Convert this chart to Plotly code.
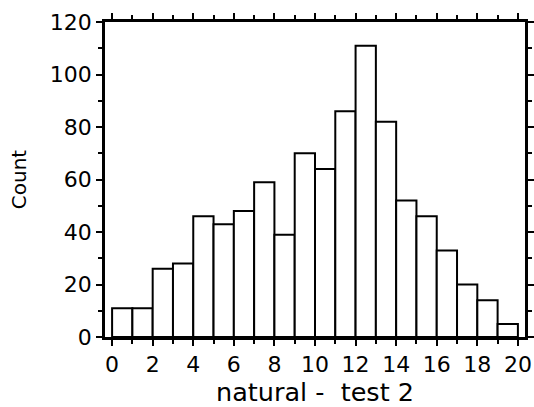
import plotly.graph_objects as go

# histogram bins (left edges) and counts
bin_left = list(range(0, 20))
counts = [11, 11, 26, 28, 46, 43, 48, 59, 39, 70,
          64, 86, 111, 82, 52, 46, 33, 20, 14, 5]

x_ticks = list(range(0, 21, 2))
y_ticks = list(range(0, 121, 20))

fig = go.Figure()

fig.add_trace(go.Bar(
    x=[b + 0.5 for b in bin_left],
    y=counts,
    width=1,
    marker=dict(color="white", line=dict(color="black", width=2)),
    showlegend=False,
))

fnt = dict(family="DejaVu Sans", size=18, color="black")

fig.update_layout(
    width=534, height=407,
    paper_bgcolor="white", plot_bgcolor="white",
    margin=dict(l=104.5, r=9, t=22, b=70.3),
    font=fnt,
    xaxis=dict(
        range=[-0.35, 20.35],
        tickvals=x_ticks,
        ticks="outside", ticklen=6, tickwidth=2, tickcolor="black",
        minor=dict(dtick=1, tick0=0, ticks="outside", ticklen=4, tickwidth=1.5, tickcolor="black"),
        showline=True, linewidth=2.5, linecolor="black", mirror="allticks",
        showgrid=False, zeroline=False, automargin=False,
        title=dict(text="natural -  test 2", font=dict(size=25.5), standoff=3),
        tickfont=dict(size=22),
    ),
    yaxis=dict(
        range=[0, 120],
        tickvals=y_ticks,
        ticks="outside", ticklen=6, tickwidth=2, tickcolor="black",
        minor=dict(dtick=10, tick0=0, ticks="outside", ticklen=4, tickwidth=1.5, tickcolor="black"),
        showline=True, linewidth=2.5, linecolor="black", mirror="allticks",
        showgrid=False, zeroline=False, automargin=False,
        title=dict(text="Count", font=dict(size=20), standoff=18),
        tickfont=dict(size=22),
    ),
)

# drop the default 8px page margin so the figure fills the window
fig.write_html("out.html", config={"displayModeBar": False},
               post_script="document.body.style.margin='0';")
